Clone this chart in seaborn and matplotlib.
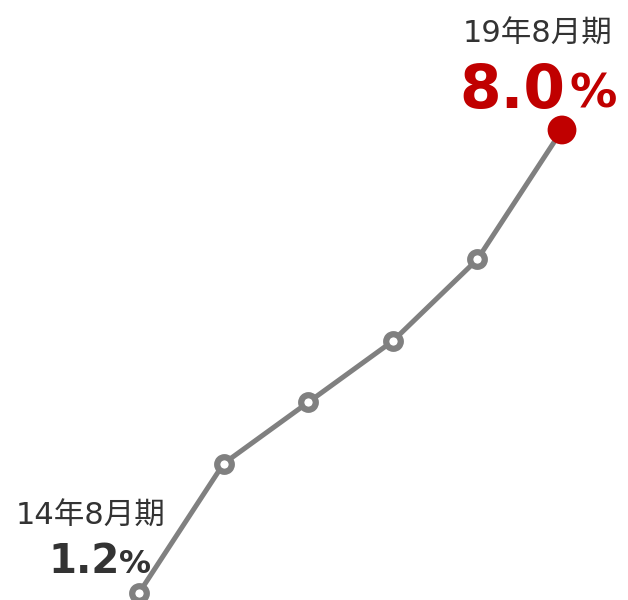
import matplotlib
matplotlib.use("Agg")
import matplotlib.pyplot as plt
import seaborn as sns
import pandas as pd

periods = ["14年8月期", "15年8月期", "16年8月期", "17年8月期", "18年8月期", "19年8月期"]
values = [1.2, 3.1, 4.0, 4.9, 6.1, 8.0]

sns.set_theme(style="white")
plt.rcParams['font.family'] = ['DejaVu Sans', 'Noto Sans CJK JP']

df = pd.DataFrame({"idx": range(len(periods)), "period": periods, "value": values})

fig = plt.figure(figsize=(6.28, 6.0), dpi=100)
ax = fig.add_axes([0, 0, 1, 1])
sns.lineplot(data=df, x="idx", y="value", ax=ax, color="#808080", linewidth=3.6,
             marker="o", markersize=10.5, markerfacecolor="white",
             markeredgecolor="#808080", markeredgewidth=4.5, zorder=2)
last = df.iloc[[-1]]
sns.scatterplot(data=last, x="idx", y="value", ax=ax, color="#C00000", s=430,
                edgecolor="none", zorder=3)

ax.set_xlim(-1.643, 5.78)
ax.set_ylim(1.097, 9.909)
ax.axis("off")

dark = "#333333"
red = "#C00000"
x0, v0 = df["idx"].iloc[0], df["value"].iloc[0]
x1, v1 = df["idx"].iloc[-1], df["value"].iloc[-1]

ax.annotate(periods[0], (x0, v0), xytext=(-48, 68), textcoords="offset pixels",
            ha="center", va="baseline", fontsize=22, color=dark)
ax.annotate(f"{v0:.1f}", (x0, v0), xytext=(-19, 20), textcoords="offset pixels",
            ha="right", va="baseline", fontsize=29, fontweight="bold", color=dark)
ax.annotate("%", (x0, v0), xytext=(-20, 20), textcoords="offset pixels",
            ha="left", va="baseline", fontsize=23, fontweight="bold", color=dark)

ax.annotate(periods[-1], (x1, v1), xytext=(-24, 87), textcoords="offset pixels",
            ha="center", va="baseline", fontsize=22, color=dark)
ax.annotate(f"{v1:.1f}", (x1, v1), xytext=(3, 22), textcoords="offset pixels",
            ha="right", va="baseline", fontsize=43, fontweight="bold", color=red)
ax.annotate("%", (x1, v1), xytext=(7, 22), textcoords="offset pixels",
            ha="left", va="baseline", fontsize=34, fontweight="bold", color=red)

fig.savefig("out.png", dpi=100)
